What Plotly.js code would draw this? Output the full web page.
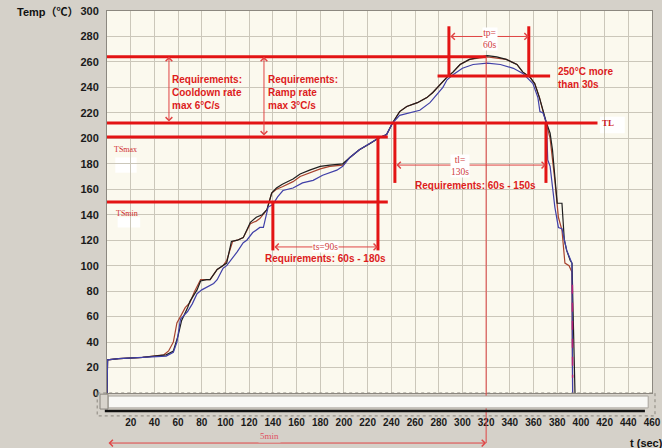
<!DOCTYPE html>
<html><head><meta charset="utf-8">
<script src="https://cdn.plot.ly/plotly-3.0.1.min.js"></script>
<style>html,body{margin:0;padding:0;background:#d5d1c9;}#chart{width:662px;height:448px;}</style>
</head><body><div id="chart"></div>
<script>
// ---- tick labels ----
const xTicks = [20,40,60,80,100,120,140,160,180,200,220,240,260,280,300,320,340,360,380,400,420,440,460];
const yTicks = [0,20,40,60,80,100,120,140,160,180,200,220,240,260,280,300];

// ---- measured profiles (time s, temperature °C) ----
const blackTime = [0,0.5,10,30,50,56,60,63,68,70,76,79,84,87,93,98,101,105,110,115,121,126,131,135,139,143,148,157,163,171,180,188,199,205,213,222,229,236,241,247,253,262,270,275,281,287,292,298,306,315,321,329,337,346,351,357,361,365,368,371,374,376,380,384,386,388,391,392.5,393,395];
const blackTemp = [0,26,27,28,30,33,45,57,67,72,81,88,89,89,97,100,102,119,120,122,134,138,140,144,157,161,164,168,172,175,178,179,180,185,191,196,200,203,212,221,225,228,232,236,242,248,252,258,262,264,265,264,262,258,252,248,243,232,221,212,204,191,149,149,120,112,104,102,80,0];

const redTime = [0,0.5,10,30,48,52,56,59,62,66,70,74,79,84,87,93,98,101,106,110,115,121,126,129,135,139,143,148,157,163,171,180,188,199,205,213,222,229,236,241,247,253,262,270,275,281,287,292,298,306,315,321,329,337,346,351,357,361,365,368,371,374,378,381,384,386.5,390,392.4,393];
const redTemp = [0,26,27,28,30,33,40,55,60,67,71,80,89,89,89,97,100,104,119,120,122,133,135,137,144,157,160,162,166,170,173,176,178,179,185,191,196,200,203,212,221,225,228,232,236,242,248,252,258,262,263,264,263,262,258,252,248,243,232,221,212,200,167,138,128,102,100,95,0];

const blueTime = [0,0.5,10,30,50,56,59,62,68,72,76,80,84,90,93,98,101,106,110,115,118,123,129,132,136,140,144,148.5,157,165,174,182,194,199,205,213,222,229,236,241,247,256,264,272.6,278.5,283.5,287,292,300,309,321,332,343,351,359.5,363.7,365.4,368,371,372,374,378,381,384,388,392.4,393];
const blueTemp = [0,26,27,28,29,32,40,58,64,70,78,81,83,86,89,98,100,106,111,118,120,126,130,130,146,148,154,159,161,165,167,171,175,178,185,191,196,200,203,212,218,220,222,228,235,240,246,250,255,258,259,258,255,251,243,232,221,220,212,183,178,146,130,129,112,102,0];

const purpleTime = [392.8,393];
const purpleTemp = [85,12];

const traces = [
  {x: redTime, y: redTemp, mode:'lines', line:{color:'#a8432e', width:1.2}, hoverinfo:'skip'},
  {x: blackTime, y: blackTemp, mode:'lines', line:{color:'#1e1e1e', width:1.2}, hoverinfo:'skip'},
  {x: blueTime, y: blueTemp, mode:'lines', line:{color:'#4040a8', width:1.2}, hoverinfo:'skip'},
  {x: purpleTime, y: purpleTemp, mode:'lines', line:{color:'#b0207a', width:1.5, dash:'dash'}, hoverinfo:'skip'}
];

const RED = '#e31414', THIN = '#e04444';
function seg(x0,y0,x1,y1,w,c){return {type:'line',xref:'x',yref:'y',x0:x0,y0:y0,x1:x1,y1:y1,line:{color:c||RED,width:w||3}};}
function box(x0,y0,x1,y1){return {type:'rect',xref:'x',yref:'y',x0:x0,y0:y0,x1:x1,y1:y1,fillcolor:'#ffffff',line:{width:0},layer:'below'};}
function pbox(x0,y0,x1,y1,fill,lc,dash,w){return {type:'rect',xref:'paper',yref:'paper',x0:x0,y0:y0,x1:x1,y1:y1,fillcolor:fill,line:{color:lc,width:w||1,dash:dash||'solid'}};}

const shapes = [
  box(7,173,25,185), box(9,130,28,138), box(416,204,437,217),
  seg(0,264,320,264), seg(0,212,414,212), seg(0,201,237,201), seg(0,150,237,150), seg(279,249,374,249),
  seg(288.6,249,288.6,288), seg(356,249,356,288),
  seg(243,212,243,165), seg(370.5,212,370.5,165),
  seg(228.7,201,228.7,112), seg(140,150,140,112),
  {type:'line',xref:'x',yref:'paper',x0:320,x1:320,y0:0.88,y1:-0.131,line:{color:THIN,width:1}},
  pbox(-0.018,0,1.0055,-0.060,'rgba(0,0,0,0)','#8a867e','dot',1),
  pbox(0.002,-0.008,0.993,-0.039,'#f8f8f5','#a8a49c'),
  pbox(-0.0128,-0.003,0.0018,-0.042,'#d8d4cc','#8a867e'),
  {type:'line',xref:'paper',yref:'paper',x0:-0.004,x1:0.987,y0:-0.047,y1:-0.047,line:{color:'#111',width:2.5}}
];

function arr(x0,y0,x1,y1){return {xref:'x',yref:'y',axref:'x',ayref:'y',x:x1,y:y1,ax:x0,ay:y0,text:'',showarrow:true,arrowhead:4,startarrowhead:4,arrowside:'end+start',arrowwidth:1,arrowsize:1.3,startarrowsize:1.3,arrowcolor:THIN,standoff:0,startstandoff:0};}
const reqFont = {family:'Liberation Sans, Arial, sans-serif', size:10, color:'#dd1c1c', weight:'bold'};
const smallFont = {family:'Liberation Serif, serif', size:9.5, color:'#d04040'};
function lab(x,y,t,xa,f,bg){return {xref:'x',yref:'y',x:x,y:y,text:t,showarrow:false,xanchor:xa||'center',yanchor:'middle',align:xa==='left'?'left':'center',font:f||reqFont,bgcolor:bg||'rgba(0,0,0,0)',borderpad:0};}

const annotations = [
  arr(52.3,212,52.3,264), arr(132.5,201,132.5,264),
  arr(288.6,280,356,280), arr(243,179,370.5,179), arr(140,114.7,228.7,114.7),
  {xref:'x',yref:'paper',axref:'x',ayref:'pixel',x:320,y:-0.131,ax:0,ay:0,text:'',showarrow:true,arrowhead:4,startarrowhead:4,arrowside:'end+start',arrowwidth:1,arrowsize:1.3,startarrowsize:1.3,arrowcolor:THIN,standoff:0,startstandoff:0},
  lab(54,235.7,'Requirements:<br>Cooldown rate<br>max 6°C/s','left'),
  lab(135,235.7,'Requirements:<br>Ramp rate<br>max 3°C/s','left'),
  lab(379.7,247.4,'250°C more<br>than 30s','left'),
  lab(323,278,'tp=<br>60s','center',smallFont,'#ffffff'),
  lab(298,178.6,'tl=<br>130s','center',smallFont,'#ffffff'),
  lab(184,114.7,'ts=90s','center',smallFont,'#ffffff'),
  lab(311,163.2,'Requirements: 60s - 150s'),
  lab(184,106,'Requirements: 60s - 180s'),
  lab(417,212,'TL','left',{family:'Liberation Serif, serif',size:9,color:'#d02020',weight:'bold'}),
  lab(5,191,'TSmax','left',{family:'Liberation Serif, serif',size:8,color:'#d03030'}),
  lab(6.8,141,'TSmin','left',{family:'Liberation Serif, serif',size:8,color:'#d03030'}),
  {xref:'x',yref:'paper',x:137.5,y:-0.131,text:'5min',showarrow:false,font:{family:'Liberation Serif, serif',size:9,color:'#e05060'},bgcolor:'#d5d1c9',borderpad:1},
  {xref:'paper',yref:'paper',x:-0.169,y:0.997,text:'Temp（℃）',showarrow:false,xanchor:'left',yanchor:'middle',font:{family:'Liberation Sans, Noto Sans CJK SC, sans-serif',size:11,color:'#111',weight:'bold'}},
  {xref:'paper',yref:'paper',x:0.956,y:-0.131,text:'t (sec)',showarrow:false,xanchor:'left',yanchor:'middle',font:{family:'Liberation Sans, Arial, sans-serif',size:11,color:'#111',weight:'bold'}}
];

const layout = {
  width:662, height:448,
  margin:{l:107, r:10, t:11, b:55},
  paper_bgcolor:'#d5d1c9', plot_bgcolor:'#fbf9ee',
  showlegend:false,
  xaxis:{range:[0,460], tickvals:xTicks, ticktext:xTicks.map(String), showgrid:true, gridcolor:'#cbc7ba', gridwidth:1,
    zeroline:false, showline:true, mirror:true, linecolor:'#8c8880', ticks:'', ticklabelstandoff:20,
    tickfont:{family:'Liberation Sans, Arial, sans-serif', size:10, color:'#1a1a1a', weight:'bold'}, fixedrange:true},
  yaxis:{range:[0,300], tickvals:yTicks, ticktext:yTicks.map(String), showgrid:true, gridcolor:'#cbc7ba', gridwidth:1,
    zeroline:false, showline:true, mirror:true, linecolor:'#8c8880', ticks:'', ticklabelstandoff:5,
    tickfont:{family:'Liberation Sans, Arial, sans-serif', size:11, color:'#1a1a1a', weight:'bold'}, fixedrange:true},
  shapes:shapes, annotations:annotations
};
Plotly.newPlot('chart', traces, layout, {staticPlot:true, displayModeBar:false});
</script></body></html>
